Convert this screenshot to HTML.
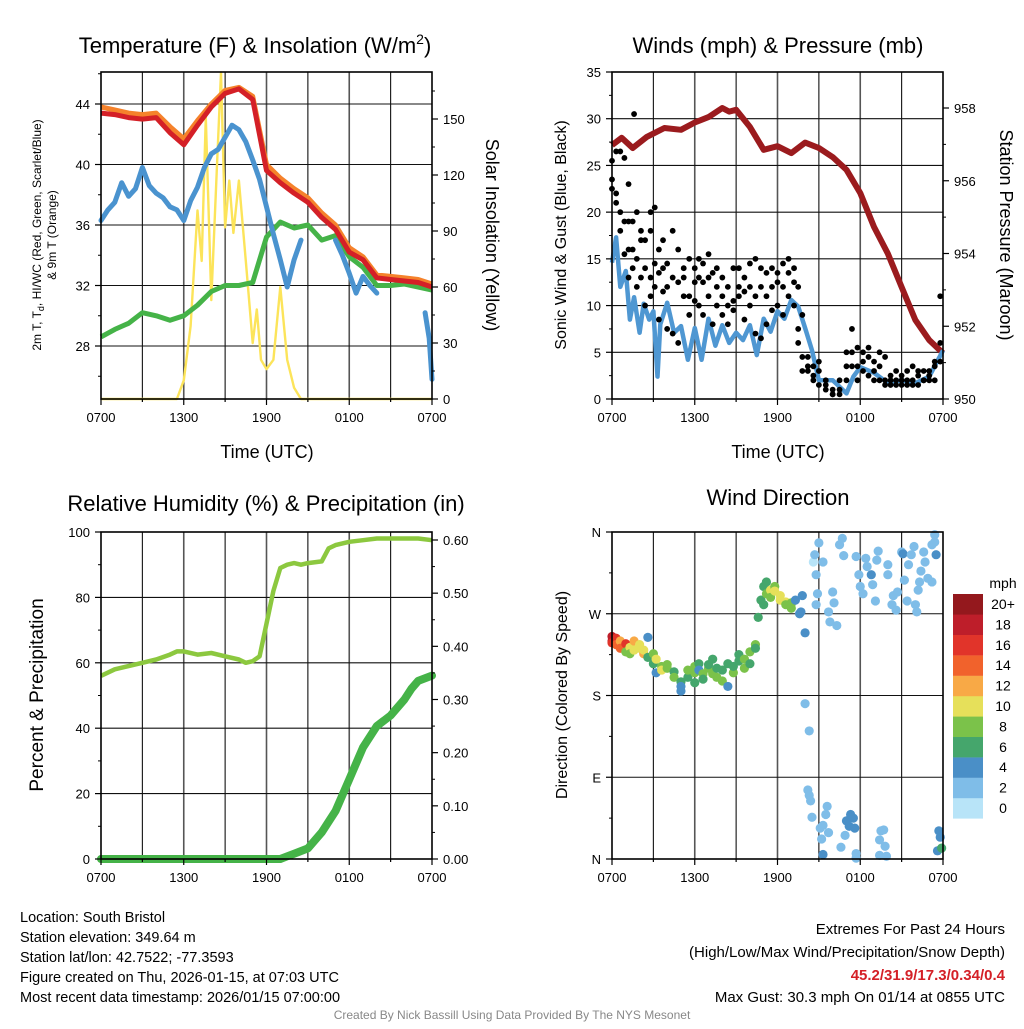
<!DOCTYPE html>
<html><head><meta charset="utf-8"><style>
html,body{margin:0;padding:0;background:#fff;}
svg text{font-family:"Liberation Sans",Arial,sans-serif;}
</style></head><body>
<svg id="c" width="1024" height="1024" viewBox="0 0 1024 1024" xmlns="http://www.w3.org/2000/svg">
<rect width="1024" height="1024" fill="#fff"/>
</svg>
<script>
// ---------- DATA ----------
const xTickLabels = ["0700","1300","1900","0100","0700"];
const hoursT = [0,1,2,3,4,5,6,7,8,9,10,11,12,13,14,15,16,17,18,19,20,21,22,23,24];
const temp2m = [43.4,43.3,43.1,43.0,43.1,42.1,41.3,42.6,43.8,44.7,45.0,44.3,39.6,38.8,38.1,37.5,36.5,35.7,34.2,33.7,32.5,32.4,32.3,32.2,31.9];
const temp9m = [43.8,43.6,43.4,43.3,43.4,42.5,41.7,42.9,44.0,44.9,45.1,44.5,40.0,39.1,38.4,37.8,36.8,36.0,34.5,33.9,32.7,32.6,32.5,32.4,32.1];
const dewpt = [28.6,29.1,29.5,30.2,30.0,29.7,30.0,30.7,31.6,32.0,32.0,32.2,35.2,36.2,35.8,36.0,35.0,35.3,33.9,33.2,32.0,32.0,32.1,31.9,31.7];
const hoursWC = [0,0.5,1,1.5,2,2.5,3,3.5,4,4.5,5,5.5,6,6.5,7,7.5,8,8.5,9,9.5,10,10.5,11,11.5,12,12.5,13,13.5,14,14.5,15,15.1,15.2,17,17.5,18,18.5,19,19.5,20,20.2,22,22.1,23.5,23.8,24];
const windChill = [36.3,37.0,37.5,38.8,37.9,38.4,39.8,38.6,38.1,37.8,37.2,37.0,36.3,37.6,38.5,39.8,40.7,41.0,41.8,42.6,42.3,41.5,40.3,39.0,37.2,35.4,33.7,31.9,33.7,35.0,null,36.0,null,35.0,34.0,32.8,31.5,32.6,32.0,31.5,null,31.0,null,30.2,28.5,25.8];
const hoursSol = [0,5.5,6,6.5,7,7.3,7.6,8,8.4,8.7,9,9.3,9.6,10,10.5,11,11.3,11.6,12,12.5,13,13.5,14,14.5,24];
const insolation = [0,0,10,39,101,74,151,53,124,175,92,117,89,117,74,30,48,21,16,21,60,21,6,0,0];

const hoursW = [0,0.3,0.6,1,1.3,1.6,2,2.3,2.7,3,3.3,3.5,4,4.5,5,5.5,6,6.5,7,7.5,8,8.5,9,9.5,10,10.5,11,11.5,12,12.5,13,13.5,14,14.5,15,16,17,17.5,18,19,20,21,22,23,24];
const sonicWind = [14.6,17.3,12,13.7,8.5,10.9,7.1,10.2,8.5,9.4,2.4,8,10.3,7.1,7.8,4.2,7.6,4.2,8.6,5.7,7.9,6.0,7.1,6.3,7.9,4.7,8.6,7.2,9.4,8.6,10.6,9.9,7.6,5.2,2.0,2.0,0.6,2.4,3.4,2.8,1.7,2.0,1.7,2.4,5.2];
const hoursP = [0,0.7,1.5,2.5,3.8,5,6,7,8,8.5,9,10,11,12,13,14,15,16,17,18,19,20,21,22,23,24];
const pressure = [956.98,957.18,956.9,957.2,957.45,957.4,957.6,957.75,958.0,957.9,957.95,957.48,956.85,956.95,956.76,957.05,956.9,956.65,956.3,955.66,954.73,954.0,953.08,952.17,951.62,951.26];
const gustHours = [0,0,0,0.3,0.3,0.3,0.6,0.6,0.6,0.9,0.9,0.9,1.2,1.2,1.2,1.2,1.6,1.5,1.5,1.5,1.8,1.8,1.8,2.1,2.1,2.1,2.4,2.4,2.4,2.8,2.8,2.8,2.8,3.1,3.1,3.1,3.4,3.4,3.4,3.7,3.7,3.7,4.0,4.0,4.0,4.4,4.4,4.4,4.8,4.8,4.8,5.2,5.2,5.2,5.6,5.6,5.6,6,6,6,6.3,6.3,6.3,6.6,6.6,6.6,7,7,7,7.3,7.3,7.6,7.6,7.6,8,8,8,8.4,8.4,8.4,8.8,8.8,8.8,9.2,9.2,9.2,9.6,9.6,9.6,10,10,10,10.4,10.4,10.4,10.8,10.8,10.8,11.2,11.2,11.2,11.6,11.6,11.6,12,12,12,12.4,12.4,12.4,12.8,12.8,12.8,13.2,13.2,13.2,13.5,13.5,13.5,13.8,13.8,13.8,14.2,14.2,14.2,14.6,14.6,14.6,15,15,15,15.5,15.5,15.5,16,16,16,16.5,16.5,16.5,17,17,17,17.4,17.4,17.4,17.8,17.8,17.8,18.2,18.2,18.2,18.6,18.6,18.6,19,19,19,19.4,19.4,19.4,19.8,19.8,19.8,20.2,20.2,20.2,20.6,20.6,20.6,21,21,21,21.4,21.4,21.4,21.8,21.8,21.8,22.2,22.2,22.2,22.6,22.6,22.6,23,23,23,23.4,23.4,23.4,23.8,23.8,23.8];
const gustMph = [25.5,23.5,22.5,26.5,22,21,26.5,20,18,25.8,19,15.5,23,19,16,13,30.5,19,16,14,20,15,12,18,17,13,17,14,10,18,20,13,11,20.5,14.5,12,16,13.5,8.5,17,11.5,14,14.5,12,7.5,18,13,7,16,12.5,6,11,13,14,15,11,9,14,12.5,10.5,13,10,15,12.5,9,14.5,15.5,13,11,13.5,8,14,12,10,11,13,9,12,10,8,14,10.5,9.5,12,14,11,13,11.5,8.5,12,14.5,10,15,11,7,14,12,6.5,13.5,11,8,12,14,9.5,13.5,12.5,10,14.5,12,9,13.5,15,11,14,12.5,10,12,7.5,6,9,4.5,3,4.5,3.5,3,2.5,3.5,2,3,1.5,4,2,1,1.5,0.5,1,0.5,2,1,0.5,5,3.5,2,7.5,5,3.5,3.5,5.5,2,5,4,3,4.5,2.5,5.5,4,2,3,5,3.5,2,4.5,2,1.5,2.5,1.5,2,3,2,1.5,2,2.5,1.5,3,2,1.5,3.5,2,1.5,2.5,1.5,3,2,3,2,2.5,2,3,3.5,2,4,4,6,11];

const hoursRH = [0,1,2,3,4,5,5.5,6,7,8,9,10,10.5,11,11.5,12,12.5,13,13.5,14,14.5,15,16,16.5,17,18,19,20,21,22,23,24];
const relHum = [56,58,59,60,61,62.5,63.5,63.5,62.5,63,62,61,60,60.5,62,72,82,89,90,90.5,90,90.5,91,95,96,97,97.5,98,98,98,98,97.5];
const hoursPr = [0,13,13.5,14,15,16,17,18,19,20,21,22,22.5,23,24];
const precip = [0,0,0.005,0.01,0.02,0.05,0.09,0.15,0.21,0.25,0.27,0.30,0.32,0.335,0.345];

const dirHours = [0,0,0,0.3,0.3,0.6,0.6,1.0,1.0,1.3,1.3,1.6,1.6,2.0,2.0,2.3,2.3,2.6,2.6,3.0,3.0,3.2,3.2,3.6,3.6,4.0,4.0,4.5,4.5,5.0,5.0,5.0,5.5,5.5,6.0,6.0,6.0,6.3,6.3,6.6,6.6,7.0,7.0,7.3,7.3,7.6,7.6,8.0,8.0,8.4,8.4,8.8,8.8,9.2,9.2,9.6,9.6,10.0,10.0,10.4,10.4,10.6,10.8,11.0,11.0,11.2,11.2,11.5,11.5,11.8,11.8,12.2,12.2,12.6,12.6,13,13,13.0,13.3,13.6,13.7,13.8,14.0,14.0,14.3,
15.0,14.6,14.7,14.8,14.9,14.8,15.3,15.7,16.0,16.1,15.8,16.3,16.5,16.7,16.8,17.7,17.9,18.0,18.2,18.4,18.5,18.8,18.9,19.1,19.2,19.3,20.0,20.0,20.4,20.3,20.6,20.7,21.0,21.1,21.2,21.4,21.5,21.7,21.9,22.0,22.1,22.2,22.3,22.4,22.6,22.7,22.9,23.2,23.2,23.4,23.5,23.4,
14.2,14.3,14.4,14.5,15.1,15.3,15.6,15.5,15.7,15.2,15.3,16.6,16.9,17.0,17.3,17.5,17.2,17.6,17.7,17.7,19.4,19.5,19.7,19.8,19.4,19.9,23.7,23.8,23.6,23.9];
const dirDeg = [245,240,238,243,236,240,232,237,228,233,226,240,230,232,236,226,230,222,244,226,215,205,220,212,208,210,214,206,200,195,190,185,200,208,212,194,205,215,208,204,198,210,214,204,220,210,200,208,196,215,190,205,212,225,218,220,210,215,228,236,232,266,285,280,300,292,305,296,288,300,295,285,290,283,280,282,281,276,285,270,272,290,249,171,141,
348,327,335,313,292,280,327,272,294,282,261,257,346,353,334,333,313,300,292,331,322,313,302,284,329,339,324,313,290,280,274,294,338,336,307,284,324,335,344,280,272,296,305,317,338,327,309,305,346,357,335,349,
76,70,64,46,34,37,58,49,29,22,5,13,26,42,49,45,36,34,6,1,21,31,32,14,4,3,31,24,9,12];
const dirSpeed = [17,18,15,16,14,12,14,15,8,10,7,12,10,10,9,12,10,6,3,8,6,4,10,8,9,8,7,6,8,6,4,3,6,8,8,6,7,5,4,7,6,7,6,8,6,6,8,6,7,5,4,8,6,6,5,7,8,6,7,8,6,6,6,6,6,7,6,10,8,8,10,10,9,10,8,7,7,7,4,3,3,3,3,1,1,
1,0,2,2,2,2,1,1,1,1,1,1,1,1,1,2,2,2,2,2,2,3,2,2,2,2,1,1,2,1,1,2,2,3,1,2,2,2,1,2,2,1,1,2,2,2,1,2,2,2,4,2,
2,2,2,2,1,1,2,2,1,2,3,1,2,3,4,4,4,3,2,2,2,2,2,1,2,2,4,4,4,6];
const cbLabels = ["0","2","4","6","8","10","12","14","16","18","20+"];
const cbColors = ["#b8e4f8","#7fbde8","#4a8fc7","#45a66c","#7bc24a","#e6e05a","#f8a946","#f1622c","#e1342a","#be1e2a","#94181d"];

// ---------- HELPERS ----------
const NS="http://www.w3.org/2000/svg";
const svg=document.getElementById('c');
function mk(tag,attrs,parent){const e=document.createElementNS(NS,tag);for(const k in attrs)e.setAttribute(k,attrs[k]);(parent||svg).appendChild(e);return e;}
function txt(s,x,y,size,anchor,parent,extra){const e=mk('text',Object.assign({x:x,y:y,'font-size':size,'text-anchor':anchor||'middle',fill:'#000'},extra||{}),parent);e.textContent=s;return e;}
function lin(d0,d1,r0,r1){return v=>r0+(v-d0)/(d1-d0)*(r1-r0);}
function pathFrom(xs,ys,sx,sy){let d='',pen=false;for(let i=0;i<xs.length;i++){if(ys[i]===null){pen=false;continue;}d+=(pen?'L':'M')+sx(xs[i]).toFixed(1)+' '+sy(ys[i]).toFixed(1);pen=true;}return d;}

function panel(name){
  const g=mk('g',{});
  
  
  return g;
}
function frameAndGrid(g,L,T,R,B,yGrid){
  const gg=mk('g',{},g);
  
  
  for(let i=1;i<8;i++){const x=L+(R-L)*i/8;mk('line',{x1:x,y1:T,x2:x,y2:B,stroke:(i%2==0)?'#555':'#111','stroke-width':(i%2==0)?1.6:1.1},gg);}
  yGrid.forEach(y=>mk('line',{x1:L,y1:y,x2:R,y2:y,stroke:'#111','stroke-width':1.1},gg));
}
function border(g,L,T,R,B){const r=mk('rect',{x:L,y:T,width:R-L,height:B-T,fill:'none',stroke:'#000','stroke-width':1.6},g);}
function xAxis(g,L,R,B){
  const ax=mk('g',{},g);
  
  
  for(let i=0;i<=8;i++){const x=L+(R-L)*i/8;mk('line',{x1:x,y1:B,x2:x,y2:B+(i%2==0?6:3),stroke:'#000','stroke-width':1.2},ax);}
  xTickLabels.forEach((s,i)=>{const t=txt(s,L+(R-L)*i/4,B+23,13,'middle',ax);});
}
function yAxis(g,x,side,ticks,labels,sc,minor){
  const ax=mk('g',{},g);
  
  
  ticks.forEach((v,i)=>{const y=sc(v);mk('line',{x1:x,y1:y,x2:x+side*6,y2:y,stroke:'#000','stroke-width':1.2},ax);
    const t=txt(labels[i],x+side*11,y+5,13,side<0?'end':'start',ax);});
  (minor||[]).forEach(v=>{const y=sc(v);mk('line',{x1:x,y1:y,x2:x+side*3,y2:y,stroke:'#000','stroke-width':1},ax);});
}
function rotText(s,x,y,size,rot,parent,name){const t=txt(s,0,0,size,'middle',parent,{transform:`translate(${x},${y}) rotate(${rot})`});return t;}

// ---------- PANEL 1 ----------
(function(){
  const L=101,T=72,R=432,B=399;
  const g=panel('temperature-panel');
  const sx=lin(0,24,L,R), sy=lin(28,44,346,104), sr=lin(0,150,399,119);
  frameAndGrid(g,L,T,R,B,[28,32,36,40,44].map(sy));
  const s=mk('g',{},g);
  const a=mk('path',{d:pathFrom(hoursSol,insolation,sx,sr),fill:'none',stroke:'#fce45a','stroke-width':2.4,'stroke-linejoin':'round'},s);
  
  const b=mk('path',{d:pathFrom(hoursT,dewpt,sx,sy),fill:'none',stroke:'#45b348','stroke-width':5,'stroke-linejoin':'round'},s);
  
  const c=mk('path',{d:pathFrom(hoursWC,windChill,sx,sy),fill:'none',stroke:'#4a93cf','stroke-width':5,'stroke-linejoin':'round','stroke-linecap':'round'},s);
  
  const d=mk('path',{d:pathFrom(hoursT,temp9m,sx,sy),fill:'none',stroke:'#f5822b','stroke-width':5,'stroke-linejoin':'round'},s);
  
  const e=mk('path',{d:pathFrom(hoursT,temp2m,sx,sy),fill:'none',stroke:'#d42027','stroke-width':5,'stroke-linejoin':'round'},s);
  
  border(g,L,T,R,B);
  xAxis(g,L,R,B);
  yAxis(g,L,-1,[28,32,36,40,44],["28","32","36","40","44"],sy,[26,30,34,38,42,46]);
  yAxis(g,R,1,[0,30,60,90,120,150],["0","30","60","90","120","150"],sr,[15,45,75,105,135,165]);
  const t=txt('Temperature (F) & Insolation (W/m',255,53,22,'middle',g);
  const ts=mk('tspan',{'font-size':14,dy:-9},t);ts.textContent='2';const ts2=mk('tspan',{dy:9},t);ts2.textContent=')';
  const xt=txt('Time (UTC)',267,458,18,'middle',g);
  const yl=txt('',0,0,12,'middle',g,{transform:'translate(41,235) rotate(-90)'});
  yl.appendChild(document.createTextNode('2m T, T'));const sb=mk('tspan',{'font-size':9,dy:3},yl);sb.textContent='d';const r1=mk('tspan',{dy:-3},yl);r1.textContent=', HI/WC (Red, Green, Scarlet/Blue)';
  rotText('& 9m T (Orange)',56,235,12,-90,g,'y-axis-title-left-line2');
  rotText('Solar Insolation (Yellow)',486,235,18,90,g,'y-axis-title-right');
})();

// ---------- PANEL 2 ----------
(function(){
  const L=612,T=72,R=943,B=399;
  const g=panel('winds-panel');
  const sx=lin(0,24,L,R), sy=lin(0,35,399,72), sp=lin(950,958,399,108);
  frameAndGrid(g,L,T,R,B,[5,10,15,20,25,30].map(sy));
  const p=mk('path',{d:pathFrom(hoursP,pressure,sx,sp),fill:'none',stroke:'#9b1b1e','stroke-width':6,'stroke-linejoin':'round'},g);
  
  const w=mk('path',{d:pathFrom(hoursW,sonicWind,sx,sy),fill:'none',stroke:'#4f97d2','stroke-width':4.5,'stroke-linejoin':'round'},g);
  
  const dg=mk('g',{},g);
  gustHours.forEach((h,i)=>{const c=mk('circle',{cx:sx(h),cy:sy(gustMph[i]),r:2.9,fill:'#000'},dg);
    
    });
  border(g,L,T,R,B);
  xAxis(g,L,R,B);
  yAxis(g,L,-1,[0,5,10,15,20,25,30,35],["0","5","10","15","20","25","30","35"],sy,[2.5,7.5,12.5,17.5,22.5,27.5,32.5]);
  yAxis(g,R,1,[950,952,954,956,958],["950","952","954","956","958"],sp,[951,953,955,957]);
  const t=txt('Winds (mph) & Pressure (mb)',778,53,22,'middle',g);
  const xt=txt('Time (UTC)',778,458,18,'middle',g);
  rotText('Sonic Wind & Gust (Blue, Black)',566,235,16,-90,g,'y-axis-title-left');
  rotText('Station Pressure (Maroon)',1000,235,18,90,g,'y-axis-title-right');
})();

// ---------- PANEL 3 ----------
(function(){
  const L=101,T=532,R=432,B=859;
  const g=panel('humidity-panel');
  const sx=lin(0,24,L,R), sy=lin(0,100,859,532), sp=lin(0,0.6,859,540);
  frameAndGrid(g,L,T,R,B,[20,40,60,80].map(sy));
  const h=mk('path',{d:pathFrom(hoursRH,relHum,sx,sy),fill:'none',stroke:'#8cc83f','stroke-width':4.5,'stroke-linejoin':'round'},g);
  
  const p=mk('path',{d:pathFrom(hoursPr,precip,sx,sp),fill:'none',stroke:'#45b348','stroke-width':8,'stroke-linejoin':'round','stroke-linecap':'round'},g);
  
  border(g,L,T,R,B);
  xAxis(g,L,R,B);
  yAxis(g,L,-1,[0,20,40,60,80,100],["0","20","40","60","80","100"],sy,[10,30,50,70,90]);
  yAxis(g,R,1,[0,0.1,0.2,0.3,0.4,0.5,0.6],["0.00","0.10","0.20","0.30","0.40","0.50","0.60"],sp,[0.05,0.15,0.25,0.35,0.45,0.55]);
  const t=txt('Relative Humidity (%) & Precipitation (in)',266,511,22,'middle',g);
  rotText('Percent & Precipitation',43,695,19,-90,g,'y-axis-title-left');
})();

// ---------- PANEL 4 ----------
(function(){
  const L=612,T=532,R=943,B=859;
  const g=panel('wind-direction-panel');
  const sx=lin(0,24,L,R), sy=lin(0,360,859,532);
  frameAndGrid(g,L,T,R,B,[90,180,270].map(sy));
  const dg=mk('g',{},g);
  dirHours.forEach((h,i)=>{const k=Math.min(10,Math.round(dirSpeed[i]/2));
    const c=mk('circle',{cx:sx(h),cy:sy(dirDeg[i]),r:4.6,fill:cbColors[k]},dg);
    
    });
  border(g,L,T,R,B);
  xAxis(g,L,R,B);
  yAxis(g,L,-1,[0,90,180,270,360],["N","E","S","W","N"],sy,[45,135,225,315]);
  const t=txt('Wind Direction',778,505,22,'middle',g);
  rotText('Direction (Colored By Speed)',567,695,16,-90,g,'y-axis-title-left');
  const lg=mk('g',{},g);
  const ct=txt('mph',1003,588,14,'middle',lg);
  for(let i=0;i<11;i++){const y=594+(10-i)*20.4;
    const r=mk('rect',{x:953,y:y,width:30,height:20.6,fill:cbColors[i]},lg);
    
    
    const l=txt(cbLabels[i],1003,y+15,14,'middle',lg);
    
    }
})();

// ---------- TEXT BLOCKS ----------
(function(){
  const g=mk('g',{});
  ["Location: South Bristol","Station elevation: 349.64 m","Station lat/lon: 42.7522; -77.3593","Figure created on Thu, 2026-01-15, at 07:03 UTC","Most recent data timestamp: 2026/01/15 07:00:00"].forEach((s,i)=>{
    const t=txt(s,20,922+i*20,14.5,'start',g);});
  const h=mk('g',{});
  let t=txt('Extremes For Past 24 Hours',1005,934,15,'end',h);
  t=txt('(High/Low/Max Wind/Precipitation/Snow Depth)',1005,957,15,'end',h);
  t=txt('45.2/31.9/17.3/0.34/0.4',1005,980,15,'end',h,{fill:'#d42027','font-weight':'bold'});
  t=txt('Max Gust: 30.3 mph On 01/14 at 0855 UTC',1005,1002,15,'end',h);
  t=txt('Created By Nick Bassill Using Data Provided By The NYS Mesonet',512,1019,12,'middle',svg,{fill:'#888'});
})();
</script>
</body></html>
